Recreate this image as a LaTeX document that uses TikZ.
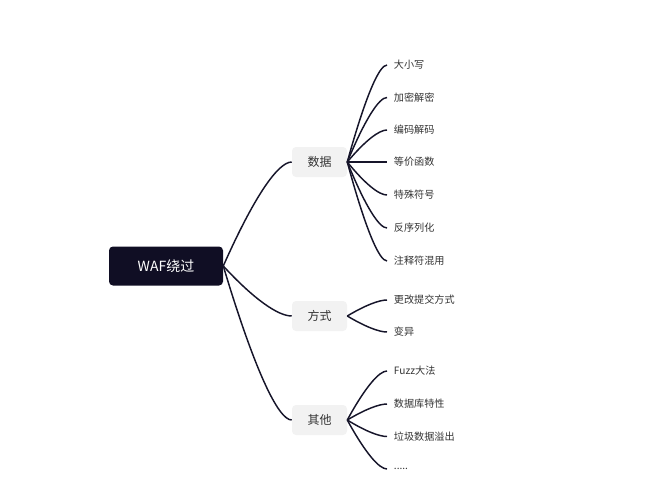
\documentclass[tikz,border=0pt]{standalone}
\usepackage{fontspec}
\setmainfont{Noto Sans CJK SC}
\usetikzlibrary{calc}
\definecolor{rootfill}{HTML}{100E24}
\definecolor{topicfill}{HTML}{F2F2F2}
\definecolor{linkcol}{HTML}{16152A}
\definecolor{textcol}{HTML}{333333}
\begin{document}
\begin{tikzpicture}
        [x=0.75pt, y=-0.75pt,
        root/.style={rectangle, rounded corners=3pt, fill=rootfill, text=white,
            minimum width=85.5pt, minimum height=29.25pt, font=\fontsize{10.5}{12}\selectfont},
        topic/.style={rectangle, rounded corners=3pt, fill=topicfill, text=textcol,
            minimum width=41.25pt, minimum height=22.5pt, font=\fontsize{9}{11}\selectfont},
        leaf/.style={anchor=west, inner xsep=5pt, text=textcol, font=\fontsize{7.6}{9}\selectfont},
        link/.style={linkcol, line width=1.1pt,
            to path={let \p1=(\tikztostart), \p2=(\tikztotarget) in
                .. controls ({\x1+0.45*(\x2-\x1)},{\y1+0.667*(\y2-\y1)})
                and ({\x2-0.2*(\x2-\x1)},\y2) .. (\tikztotarget)}}]

        \useasboundingbox (0,0) rectangle (650,500);

        \node[root] (waf) at (166,266) {WAF绕过};

        \node[topic] (data) at (319.5,162) {数据};
        \node[topic] (way) at (319.5,316) {方式};
        \node[topic] (other) at (319.5,420) {其他};

        % leaves of the first topic
        \node[leaf] (d1) at (387,65) {大小写};
        \node[leaf] (d2) at (387,97.5) {加密解密};
        \node[leaf] (d3) at (387,130) {编码解码};
        \node[leaf] (d4) at (387,162) {等价函数};
        \node[leaf] (d5) at (387,195) {特殊符号};
        \node[leaf] (d6) at (387,228) {反序列化};
        \node[leaf] (d7) at (387,261) {注释符混用};

        % leaves of the second topic
        \node[leaf] (w1) at (387,300) {更改提交方式};
        \node[leaf] (w2) at (387,332) {变异};

        % leaves of the third topic
        \node[leaf] (o1) at (387,371) {Fuzz大法};
        \node[leaf] (o2) at (387,404) {数据库特性};
        \node[leaf] (o3) at (387,436.5) {垃圾数据溢出};
        \node[leaf] (o4) at (387,469) {.....};

        \draw[link] (waf.east) to (data.west);
        \draw[link] (waf.east) to (way.west);
        \draw[link] (waf.east) to (other.west);

        \draw[link] (data.east) to (d1.west);
        \draw[link] (data.east) to (d2.west);
        \draw[link] (data.east) to (d3.west);
        \draw[link] (data.east) to (d4.west);
        \draw[link] (data.east) to (d5.west);
        \draw[link] (data.east) to (d6.west);
        \draw[link] (data.east) to (d7.west);

        \draw[link] (way.east) to (w1.west);
        \draw[link] (way.east) to (w2.west);

        \draw[link] (other.east) to (o1.west);
        \draw[link] (other.east) to (o2.west);
        \draw[link] (other.east) to (o3.west);
        \draw[link] (other.east) to (o4.west);
\end{tikzpicture}
\end{document}
